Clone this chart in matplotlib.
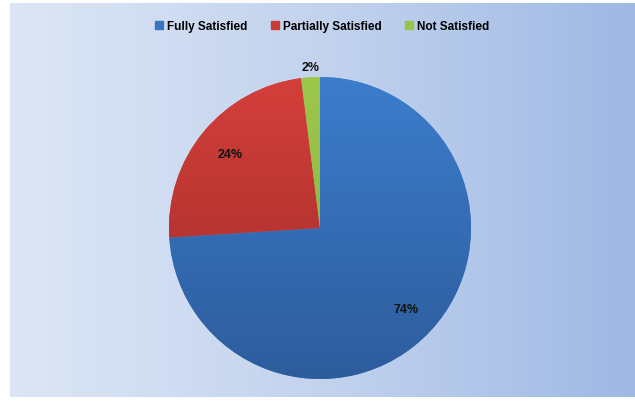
import numpy as np
import matplotlib.pyplot as plt
from matplotlib.colors import LinearSegmentedColormap, to_rgb

# data
labels = ['Fully Satisfied', 'Partially Satisfied', 'Not Satisfied']
values = [74, 24, 2]
top_colors = ['#3c7dcc', '#d43f3b', '#9dc84c']
bottom_colors = ['#2d5c9c', '#9e2c28', '#86ad3a']
legend_colors = ['#3a73be', '#c83a36', '#9bc24a']

plt.rcParams['font.family'] = ['Liberation Sans', 'DejaVu Sans']

W, H = 635, 402
fig = plt.figure(figsize=(W / 100, H / 100), dpi=100)
fig.patch.set_facecolor('white')

# gradient background panel
bg = fig.add_axes([10 / W, 1 - 398 / H, 1 - 10 / W, 394 / H])
bg.axis('off')
grad = np.linspace(0, 1, 256).reshape(1, -1)
bg_cmap = LinearSegmentedColormap.from_list('bg', ['#dce6f5', '#c3d3ee', '#9fb9e4'])
bg.imshow(grad, aspect='auto', cmap=bg_cmap, extent=[0, 1, 0, 1])

# pie axes: centre (320, 229), radius ~150 px
cx, cy, r = 320, 229, 151
ax = fig.add_axes([(cx - r) / W, 1 - (cy + r) / H, 2 * r / W, 2 * r / H])
wedges, _ = ax.pie(values, startangle=90, counterclock=False, radius=1,
                   colors=top_colors, wedgeprops=dict(linewidth=0))
ax.set_xlim(-1, 1)
ax.set_ylim(-1, 1)
ax.set_aspect('equal')
ax.axis('off')

# vertical shading inside each wedge
yy = np.linspace(1, 0, 256).reshape(-1, 1)
for w, c_top, c_bot in zip(wedges, top_colors, bottom_colors):
    cm = LinearSegmentedColormap.from_list('w', [to_rgb(c_bot), to_rgb(c_top)])
    im = ax.imshow(yy, cmap=cm, extent=[-1, 1, -1, 1], aspect='auto', zorder=2)
    im.set_clip_path(w)

# percentage labels (the small slice gets its label outside)
mid = np.cumsum(values) - np.array(values) / 2
label_r = [0.78, 0.77, 1.03]
label_va = ['center', 'center', 'bottom']
for v, m, lr, va in zip(values, mid, label_r, label_va):
    ang = np.deg2rad(90 - m / 100 * 360)
    ax.text(lr * np.cos(ang), lr * np.sin(ang), f'{v}%', ha='center', va=va,
            fontsize=9, fontweight='bold', color='#111111', zorder=5,
            clip_on=False)

# legend
handles = [plt.Rectangle((0, 0), 1, 1, color=c) for c in legend_colors]
fig.legend(handles, labels, loc='center', bbox_to_anchor=(322 / W, 1 - 27 / H),
           ncol=3, frameon=False, handlelength=0.7, handleheight=0.7,
           handletextpad=0.3, columnspacing=2.0,
           prop=dict(size=8.5, weight='bold'))

fig.savefig('out.png', dpi=100)
